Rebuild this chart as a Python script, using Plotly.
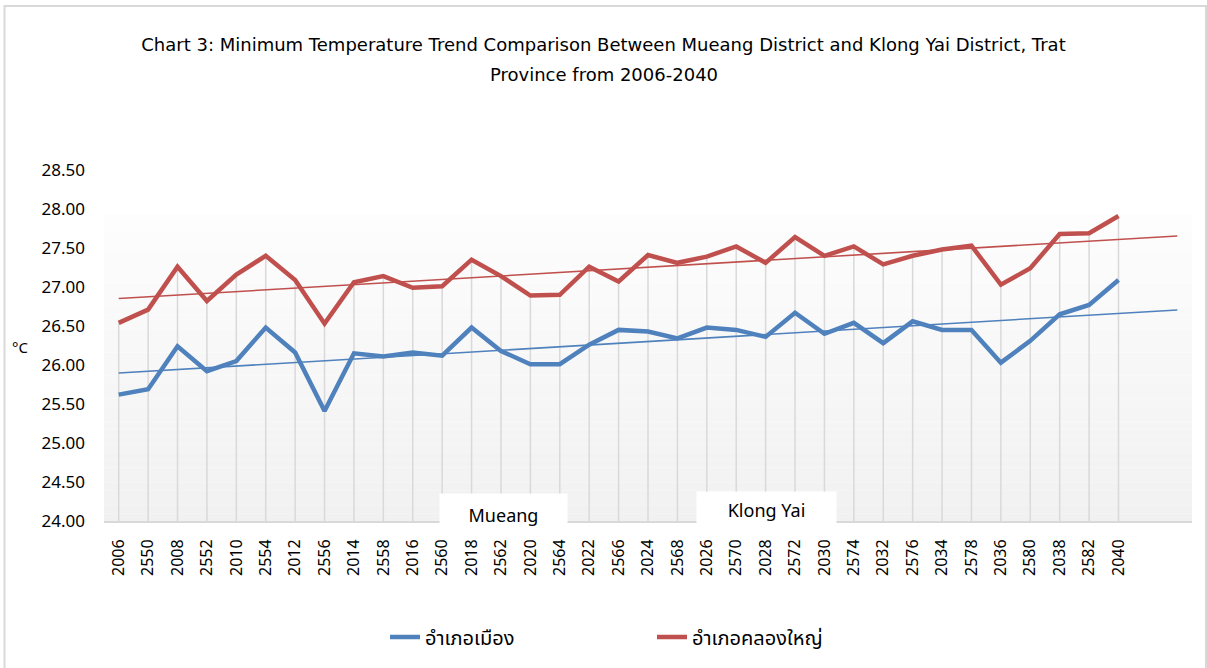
import numpy as np
import plotly.graph_objects as go


#________ data ________#
year_labels = ["2006", "2550", "2008", "2552", "2010", "2554", "2012", "2556", "2014", "2558",
               "2016", "2560", "2018", "2562", "2020", "2564", "2022", "2566", "2024", "2568",
               "2026", "2570", "2028", "2572", "2030", "2574", "2032", "2576", "2034", "2578",
               "2036", "2580", "2038", "2582", "2040"]

mueang = [25.62, 25.69, 26.24, 25.92, 26.05, 26.48, 26.16, 25.41, 26.15, 26.11,
          26.16, 26.12, 26.48, 26.18, 26.01, 26.01, 26.26, 26.45, 26.43, 26.34,
          26.48, 26.45, 26.36, 26.67, 26.40, 26.54, 26.28, 26.56, 26.45, 26.45,
          26.03, 26.31, 26.65, 26.77, 27.09]

klong_yai = [26.54, 26.71, 27.26, 26.82, 27.16, 27.40, 27.09, 26.53, 27.06, 27.14,
             26.99, 27.01, 27.35, 27.14, 26.89, 26.90, 27.26, 27.07, 27.41, 27.31,
             27.39, 27.52, 27.31, 27.64, 27.40, 27.52, 27.29, 27.40, 27.48, 27.53,
             27.03, 27.24, 27.68, 27.69, 27.91]

series_names = ["อำเภอเมือง", "อำเภอคลองใหญ่"]
box_labels = ["Mueang", "Klong Yai"]
title_lines = ["Chart 3: Minimum Temperature Trend Comparison Between Mueang District and Klong Yai District, Trat",
               "Province from 2006-2040"]
forecast_periods = 2      # trendline runs 2 periods past the data (like excel forward forecast)
y_min, y_max = 24.0, 28.5

BLUE = "#4f81bd"
RED = "#c0504d"
FONT = "Noto Sans, Open Sans, sans-serif"
TITLE_FONT = "DejaVu Sans, sans-serif"
THAI_FONT = "Noto Sans Thai, Noto Sans, sans-serif"

# plot area in pixels (left, right, top, bottom) -> used for paper coords of the extras
PL, PR, PT, PB = 104, 1192, 170, 521
PW, PH = PR - PL, PB - PT


def px_x(x):
    return (x - PL) / PW


def px_y(y):
    return (PB - y) / PH


x_idx = np.arange(len(year_labels))
x_trend = np.arange(len(year_labels) + forecast_periods)

fig = go.Figure()

# drop lines from the highest series down to the axis
drop_x, drop_y = [], []
for i, top in enumerate(np.maximum(mueang, klong_yai)):
    drop_x += [i, i, None]
    drop_y += [y_min, top, None]
fig.add_scatter(x=drop_x, y=drop_y, mode="lines", line=dict(color="#d9d9d9", width=1.5),
                showlegend=False, hoverinfo="skip")

# linear trendlines
for vals, col in [(mueang, BLUE), (klong_yai, RED)]:
    slope, icpt = np.polyfit(x_idx, vals, 1)
    fig.add_scatter(x=x_trend, y=slope * x_trend + icpt, mode="lines",
                    line=dict(color=col, width=1.6), showlegend=False, hoverinfo="skip")

# main series
fig.add_scatter(x=x_idx, y=mueang, mode="lines", name=series_names[0],
                line=dict(color=BLUE, width=4.5))
fig.add_scatter(x=x_idx, y=klong_yai, mode="lines", name=series_names[1],
                line=dict(color=RED, width=4.5))

# soft grey gradient behind the plot
shapes = []
n_bands = 40
grad_top = px_y(215)
for k in range(n_bands):
    t = k / (n_bands - 1)
    g = int(round(241 + (253 - 241) * t))
    shapes.append(dict(type="rect", xref="paper", yref="paper", x0=0, x1=1,
                       y0=grad_top * k / n_bands, y1=grad_top * (k + 1) / n_bands,
                       fillcolor=f"rgb({g},{g},{g})", line=dict(width=0), layer="below"))
# outer chart border
shapes.append(dict(type="rect", xref="paper", yref="paper",
                   x0=px_x(4.5), x1=px_x(1206), y0=px_y(690), y1=px_y(6),
                   line=dict(color="#d9d9d9", width=2), fillcolor="rgba(0,0,0,0)", layer="below"))

annotations = [
    dict(text=title_lines[1], xref="paper", yref="paper", x=px_x(604), y=px_y(75),
         xanchor="center", yanchor="middle", showarrow=False,
         font=dict(family=TITLE_FONT, size=18, color="#000")),
    dict(text="°C", xref="paper", yref="paper", x=px_x(20), y=px_y(347),
         xanchor="center", yanchor="middle", showarrow=False, font=dict(family=FONT, size=15, color="#000")),
    dict(text=box_labels[0], xref="paper", yref="paper", x=px_x(503.5), y=px_y(511),
         xanchor="center", yanchor="middle", showarrow=False, bgcolor="white", width=125, height=32,
         valign="bottom", borderpad=1, font=dict(family=FONT, size=18, color="#000")),
    dict(text=box_labels[1], xref="paper", yref="paper", x=px_x(766.5), y=px_y(510),
         xanchor="center", yanchor="middle", showarrow=False, bgcolor="white", width=137, height=34,
         font=dict(family=FONT, size=18, color="#000")),
]

fig.update_layout(
    width=1207, height=668,
    margin=dict(l=PL, r=1207 - PR, t=PT, b=668 - PB),
    paper_bgcolor="white", plot_bgcolor="white",
    title=dict(text=title_lines[0], x=0.5, xanchor="center", y=1 - 45 / 668, yanchor="middle",
               font=dict(family=TITLE_FONT, size=18, color="#000")),
    showlegend=True,
    legend=dict(orientation="h", x=px_x(385), xanchor="left", y=px_y(637), yanchor="middle",
                font=dict(family=THAI_FONT, size=20, color="#000"), entrywidth=222),
    shapes=shapes, annotations=annotations,
)

fig.update_xaxes(range=[-0.5, len(x_trend) - 0.5], tickmode="array", tickvals=x_idx, ticktext=year_labels,
                 tickangle=-90, showgrid=False, zeroline=False, ticks="",
                 showline=True, linecolor="#d9d9d9", linewidth=2, ticklabelstandoff=10,
                 tickfont=dict(family=FONT, size=16, color="#000"))
fig.update_yaxes(range=[y_min, y_max], dtick=0.5, tickformat=".2f", showgrid=False, zeroline=False,
                 showline=False, ticks="", ticklabelstandoff=18,
                 tickfont=dict(family=FONT, size=17, color="#000"))

# page has an 8px body margin by default, drop it so the chart sits at 0,0
fig.write_html("out.html", config={"displayModeBar": False},
               post_script="document.body.style.margin='0px';")
